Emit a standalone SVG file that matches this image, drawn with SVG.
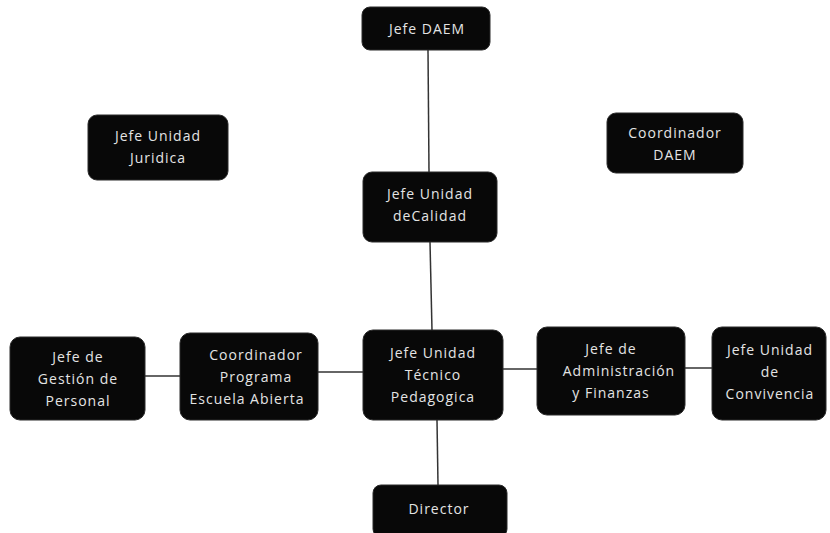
<svg xmlns="http://www.w3.org/2000/svg" width="830" height="533" viewBox="0 0 830 533">
<style>
.box{fill:#080808;stroke:#2a2a2a;stroke-width:1}
.t{fill:#e4e4e4;font-family:"Open Sans","Liberation Sans",sans-serif;font-size:14px;letter-spacing:1px;text-anchor:middle}
.c{stroke:#333;stroke-width:1.5;fill:none}
</style>
<rect width="830" height="533" fill="#ffffff"/>
<g id="connectors">
<line class="c" x1="428" y1="50" x2="429" y2="172"/>
<line class="c" x1="430" y1="242" x2="432" y2="330"/>
<line class="c" x1="437" y1="420" x2="438" y2="485"/>
<line class="c" x1="145" y1="376" x2="180" y2="376"/>
<line class="c" x1="318" y1="372" x2="363" y2="372"/>
<line class="c" x1="503" y1="369" x2="537" y2="369"/>
<line class="c" x1="685" y1="368" x2="712" y2="368"/>
</g>
<g id="jefe-daem">
<rect class="box" x="362" y="7" width="128" height="43" rx="8"/>
<text class="t" x="427" y="34">Jefe DAEM</text>
</g>
<g id="jefe-juridica">
<rect class="box" x="88" y="115" width="140" height="65" rx="9"/>
<text class="t" x="158" y="141">Jefe Unidad</text>
<text class="t" x="158" y="163">Juridica</text>
</g>
<g id="coordinador-daem">
<rect class="box" x="607" y="113" width="136" height="60" rx="9"/>
<text class="t" x="675" y="138">Coordinador</text>
<text class="t" x="675" y="160">DAEM</text>
</g>
<g id="jefe-calidad">
<rect class="box" x="363" y="172" width="134" height="70" rx="9"/>
<text class="t" x="430" y="199">Jefe Unidad</text>
<text class="t" x="430" y="221">deCalidad</text>
</g>
<g id="jefe-gestion">
<rect class="box" x="10" y="337" width="135" height="83" rx="10"/>
<text class="t" x="78" y="362">Jefe de</text>
<text class="t" x="78" y="384">Gestión de</text>
<text class="t" x="78" y="406">Personal</text>
</g>
<g id="coordinador-programa">
<rect class="box" x="180" y="333" width="138" height="87" rx="10"/>
<text class="t" x="256" y="360">Coordinador</text>
<text class="t" x="256" y="382">Programa</text>
<text class="t" x="247" y="404">Escuela Abierta</text>
</g>
<g id="jefe-tecnico">
<rect class="box" x="363" y="330" width="140" height="90" rx="10"/>
<text class="t" x="433" y="358">Jefe Unidad</text>
<text class="t" x="433" y="380">Técnico</text>
<text class="t" x="433" y="402">Pedagogica</text>
</g>
<g id="jefe-administracion">
<rect class="box" x="537" y="327" width="148" height="88" rx="10"/>
<text class="t" x="611" y="354">Jefe de</text>
<text class="t" x="619" y="376">Administración</text>
<text class="t" x="611" y="398">y Finanzas</text>
</g>
<g id="jefe-convivencia">
<rect class="box" x="712" y="327" width="114" height="93" rx="10"/>
<text class="t" x="770" y="355">Jefe Unidad</text>
<text class="t" x="770" y="377">de</text>
<text class="t" x="770" y="399">Convivencia</text>
</g>
<g id="director">
<rect class="box" x="373" y="485" width="134" height="52" rx="8"/>
<text class="t" x="439" y="514">Director</text>
</g>
</svg>
